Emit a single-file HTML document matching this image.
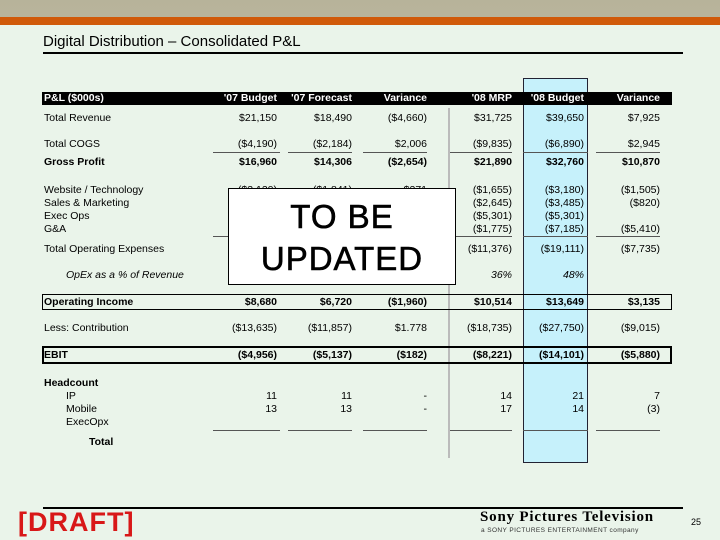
<!DOCTYPE html>
<html><head><meta charset="utf-8"><style>
body{margin:0;width:720px;height:540px;overflow:hidden;background:#eaf4ea;font-family:"Liberation Sans",sans-serif;position:relative}
div,span{position:absolute;box-sizing:border-box}
.t{font-size:10.5px;white-space:nowrap;line-height:12px}
.r{text-align:right}
.b{font-weight:bold}
.ln{height:1px;background:#555}
</style></head><body>
<div style="left:0;top:0;width:720px;height:20px;background:linear-gradient(#b7b39a,#b9b49c)"></div>
<div style="left:0;top:17px;width:720px;height:8px;background:#d05a0a"></div>
<div style="left:43px;top:33px;font-size:15px;white-space:nowrap">Digital Distribution – Consolidated P&amp;L</div>
<div style="left:43px;top:52px;width:640px;height:2px;background:#000"></div>

<div style="left:523px;top:78px;width:65px;height:385px;background:#c6f1fb;border:1px solid #223"></div>
<div style="left:42px;top:92px;width:630px;height:13px;background:#000"></div>
<div style="left:448px;top:108px;width:2px;height:350px;background:#bbb"></div>
<div style="left:42px;top:294px;width:630px;height:16px;border:1px solid #000"></div>
<div style="left:42px;top:346px;width:630px;height:18px;border:2px solid #000"></div>

<div id="tbl"></div>

<div style="left:228px;top:188px;width:228px;height:97px;background:#fff;border:1px solid #000;text-align:center;font-size:33px;line-height:42px;padding-top:7px;letter-spacing:1px;-webkit-text-stroke:0.6px #000">TO BE<br>UPDATED</div>

<div style="left:43px;top:507px;width:640px;height:2px;background:#000"></div>
<div style="left:18px;top:507px;font-size:27px;font-weight:bold;color:#d81818;letter-spacing:1px">[DRAFT]</div>
<div style="left:480px;top:509px;font-size:15px;font-weight:bold;font-family:'Liberation Serif',serif;white-space:nowrap;letter-spacing:0.8px">Sony Pictures Television</div>
<div style="left:481px;top:527px;font-size:6.5px;white-space:nowrap;color:#333;letter-spacing:0.4px">a SONY PICTURES ENTERTAINMENT company</div>
<div style="left:691px;top:517px;font-size:9px">25</div>

<script>
const cols=[277,352,427,512,584,660];
const headers=["'07 Budget","'07 Forecast","Variance","'08 MRP","'08 Budget","Variance"];
const rows=[
["Total Revenue",118,"",["$21,150","$18,490","($4,660)","$31,725","$39,650","$7,925"]],
["Total COGS",144,"",["($4,190)","($2,184)","$2,006","($9,835)","($6,890)","$2,945"]],
["Gross Profit",162,"b",["$16,960","$14,306","($2,654)","$21,890","$32,760","$10,870"]],
["Website / Technology",190,"",["($3,120)","($1,841)","$271","($1,655)","($3,180)","($1,505)"]],
["Sales & Marketing",203,"",["","","","($2,645)","($3,485)","($820)"]],
["Exec Ops",216,"",["","","","($5,301)","($5,301)",""]],
["G&A",229,"",["","","","($1,775)","($7,185)","($5,410)"]],
["Total Operating Expenses",249,"",["","","","($11,376)","($19,111)","($7,735)"]],
["OpEx as a % of Revenue",275,"i",["","","","36%","48%",""]],
["Operating Income",302,"b",["$8,680","$6,720","($1,960)","$10,514","$13,649","$3,135"]],
["Less:  Contribution",328,"",["($13,635)","($11,857)","$1.778","($18,735)","($27,750)","($9,015)"]],
["EBIT",355,"b",["($4,956)","($5,137)","($182)","($8,221)","($14,101)","($5,880)"]],
["Headcount",383,"b",["","","","","",""]],
["IP",396,"",["11","11","-","14","21","7"]],
["Mobile",409,"",["13","13","-","17","14","(3)"]],
["ExecOpx",422,"",["","","","","",""]],
["Total",442,"b",["","","","","",""]]
];
const T=document.getElementById('tbl');
function add(html,l,t,cls,w,name){const d=document.createElement('div');d.className='t '+cls;d.style.left=l+'px';d.style.top=t+'px';if(w)d.style.width=w+'px';d.textContent=html;


T.appendChild(d);return d;}
const h=add('P&L ($000s)',44,92,'b',0,'header-label');h.style.color='#fff';
headers.forEach((x,i)=>{const d=add(x,cols[i]-90,92,'r b',90,'column-header');d.style.color='#fff';});
rows.forEach(r=>{
 const indent={"IP":22,"Mobile":22,"ExecOpx":22,"Total":45,"OpEx as a % of Revenue":22}[r[0]]||0;
 const lab=add(r[0],44+indent,r[1]-6,r[2]=='b'?'b':'',0,'row-label');
 if(r[2]=='i'){lab.style.fontStyle='italic';}
 r[3].forEach((v,i)=>{const d=add(v,cols[i]-90,r[1]-6,'r'+(r[2]=='b'?' b':''),90,'cell-value');if(r[2]=='i')d.style.fontStyle='italic';});
});
function line(x1,x2,y){const d=document.createElement('div');d.className='ln';d.style.left=x1+'px';d.style.top=y+'px';d.style.width=(x2-x1)+'px';


T.appendChild(d);}
[[213,280],[288,352],[363,427],[450,512],[523,588],[596,660]].forEach(s=>{line(s[0],s[1],152);line(s[0],s[1],236);line(s[0],s[1],430);});
</script>
</body></html>
